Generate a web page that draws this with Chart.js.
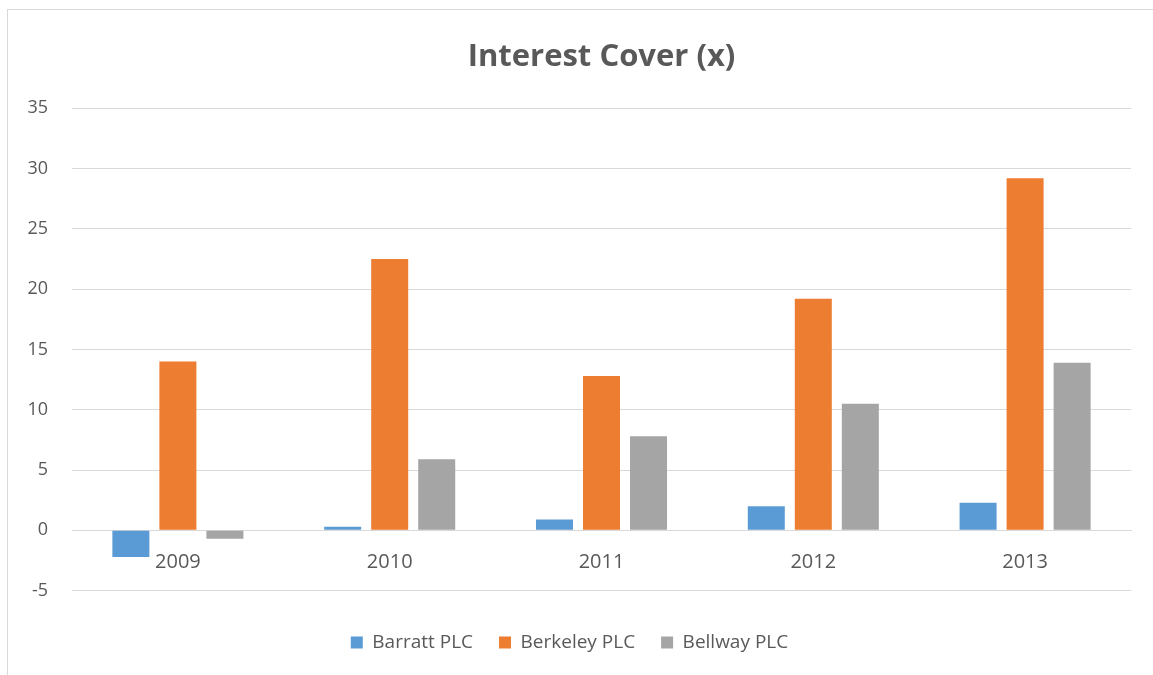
<!DOCTYPE html>
<html>
<head>
<meta charset="utf-8">
<script src="https://cdn.jsdelivr.net/npm/chart.js@4.4.1/dist/chart.umd.min.js"></script>
<style>
  html, body { margin: 0; padding: 0; background: #ffffff; overflow: hidden; width: 1153px; height: 675px; }
  #frame { position: absolute; left: 7px; top: 9px; border-top: 1px solid #d9d9d9; border-left: 1px solid #d9d9d9; }
  canvas { display: block; }
</style>
</head>
<body>
<div id="frame"><canvas id="c" width="1145" height="680"></canvas></div>
<script>
const chartTitle = 'Interest Cover (x)';
const categories = ['2009', '2010', '2011', '2012', '2013'];
const seriesNames = ['Barratt PLC', 'Berkeley PLC', 'Bellway PLC'];
const barrattValues = [-2.2, 0.3, 0.9, 2.0, 2.3];
const berkeleyValues = [14.0, 22.5, 12.8, 19.2, 29.2];
const bellwayValues = [-0.7, 5.9, 7.8, 10.5, 13.9];
const yTickMin = -5;
const yTickMax = 35;
const yTickStep = 5;
const seriesColors = ['#5B9BD5', '#ED7D31', '#A5A5A5'];

const textColor = '#595959';
const gridColor = '#D9D9D9';
const fontFamily = '"Open Sans", "Liberation Sans", sans-serif';

const seriesValues = [barrattValues, berkeleyValues, bellwayValues];

new Chart(document.getElementById('c'), {
  type: 'bar',
  data: {
    labels: categories,
    datasets: seriesNames.map((name, i) => ({
      label: name,
      data: seriesValues[i],
      backgroundColor: seriesColors[i],
      borderWidth: 0,
      categoryPercentage: 0.666,
      barPercentage: 0.787
    }))
  },
  options: {
    responsive: false,
    animation: false,
    devicePixelRatio: 1,
    layout: { padding: { left: 0, right: 22, top: 0, bottom: 28 } },
    plugins: {
      title: {
        display: true,
        fullSize: false,
        text: chartTitle,
        color: textColor,
        font: { family: fontFamily, size: 31, weight: 'bold' },
        padding: { top: 29, bottom: 32 }
      },
      legend: {
        display: true,
        position: 'bottom',
        title: { display: true, text: '', padding: 0, font: { size: 13.6 } },
        labels: {
          color: textColor,
          font: { family: fontFamily, size: 19 },
          boxWidth: 12,
          boxHeight: 12,
          padding: 26
        }
      },
      tooltip: { enabled: false }
    },
    scales: {
      x: {
        position: { y: 0 },
        grid: { display: false, drawTicks: false },
        border: { display: true, color: gridColor, width: 1 },
        ticks: {
          color: textColor,
          font: { family: fontFamily, size: 20 },
          padding: 20,
          maxRotation: 0
        },
        afterFit: (scale) => { scale.paddingLeft = 0; scale.paddingRight = 0; }
      },
      y: {
        min: yTickMin,
        max: yTickMax,
        grid: { color: gridColor, lineWidth: 1, drawTicks: false },
        border: { display: false },
        ticks: {
          stepSize: yTickStep,
          color: textColor,
          font: { family: fontFamily, size: 18 },
          padding: 24
        },
        afterFit: (scale) => { scale.width = 64; }
      }
    }
  }
});
</script>
</body>
</html>
